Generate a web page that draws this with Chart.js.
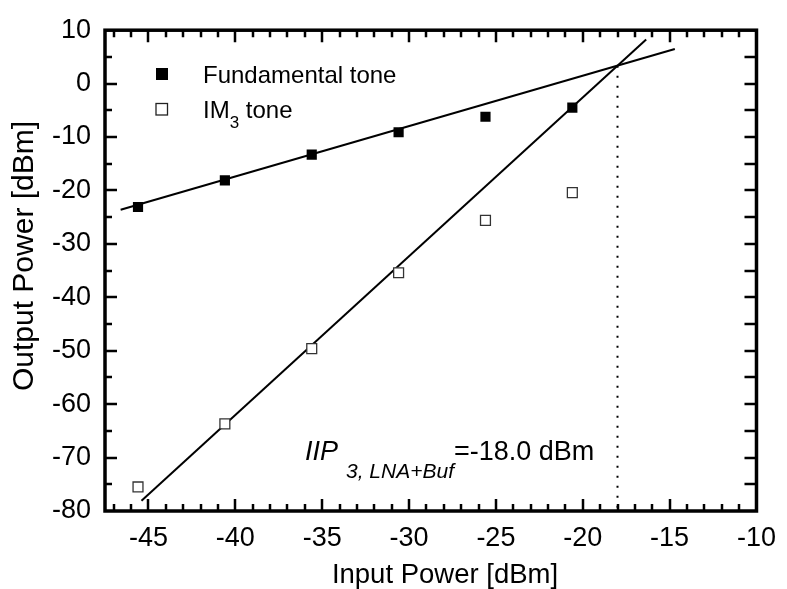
<!DOCTYPE html>
<html>
<head>
<meta charset="utf-8">
<script src="https://cdn.jsdelivr.net/npm/chart.js@4/dist/chart.umd.min.js"></script>
<style>
  body { margin: 0; background: #fff; }
  canvas { display: block; }
</style>
</head>
<body>
<canvas id="c" width="787" height="589"></canvas>
<script>
// measured points: input power and the two output tones
const inputPower = [-45.6, -40.6, -35.6, -30.6, -25.6, -20.6];
const fundamental = [-23.1, -18.1, -13.3, -9.1, -6.2, -4.5];
const im3 = [-75.5, -63.7, -49.6, -35.4, -25.6, -20.4];

// linear fits (end points) for both tones
const fitFundX = [-46.6, -14.7];
const fitFundY = [-23.61, 6.47];
const fitIm3X = [-45.4, -16.35];
const fitIm3Y = [-78.07, 8.26];

// intercept point
const iip3 = -18.0;
const iipOut = 3.36;

// axis ticks
const xTicks = [-45, -40, -35, -30, -25, -20, -15, -10];
const yTicks = [-80, -70, -60, -50, -40, -30, -20, -10, 0, 10];

const FONT = 'Liberation Sans, Arial, sans-serif';

function pts(xs, ys) {
  return xs.map((x, i) => ({ x: x, y: ys[i] }));
}

// frame, inward ticks, legend, titles and the IIP3 note
const decor = {
  id: 'decor',
  afterDraw(chart) {
    const ctx = chart.ctx;
    const a = chart.chartArea;
    const xs = chart.scales.x, ys = chart.scales.y;
    ctx.save();
    ctx.setLineDash([]);
    ctx.strokeStyle = '#000';
    ctx.lineWidth = 3.5;
    ctx.strokeRect(a.left, a.top, a.right - a.left, a.bottom - a.top);

    ctx.lineWidth = 2.5;
    ctx.beginPath();
    for (let v = -47; v <= -11; v++) {
      const px = Math.round(xs.getPixelForValue(v));
      const len = v % 5 === 0 ? 12 : 7;
      ctx.moveTo(px, a.bottom); ctx.lineTo(px, a.bottom - len);
      ctx.moveTo(px, a.top); ctx.lineTo(px, a.top + len);
    }
    for (let v = -75; v <= 5; v += 5) {
      const py = Math.round(ys.getPixelForValue(v));
      const len = v % 10 === 0 ? 12 : 7;
      ctx.moveTo(a.left, py); ctx.lineTo(a.left + len, py);
      ctx.moveTo(a.right, py); ctx.lineTo(a.right - 12, py);
    }
    ctx.stroke();

    // legend
    ctx.fillStyle = '#000';
    ctx.fillRect(156, 68, 12, 12);
    ctx.lineWidth = 1.3;
    ctx.strokeStyle = '#222';
    ctx.strokeRect(156, 103.5, 11.5, 11.5);
    ctx.textBaseline = 'alphabetic';
    ctx.textAlign = 'left';
    ctx.font = '24px ' + FONT;
    ctx.fillText('Fundamental tone', 203, 83);
    ctx.fillText('IM', 203, 118);
    let w = ctx.measureText('IM').width;
    ctx.font = '17px ' + FONT;
    ctx.fillText('3', 203 + w, 128);
    const w3 = ctx.measureText('3').width;
    ctx.font = '24px ' + FONT;
    ctx.fillText(' tone', 203 + w + w3, 118);

    // IIP3 note
    ctx.font = 'italic 27px ' + FONT;
    ctx.fillText('IIP', 305, 460);
    let x = 305 + ctx.measureText('IIP').width + 8;
    ctx.font = 'italic 21px ' + FONT;
    ctx.fillText('3, LNA+Buf', x, 478);
    x += ctx.measureText('3, LNA+Buf').width;
    ctx.font = '27px ' + FONT;
    ctx.fillText('=' + iip3.toFixed(1) + ' dBm', x, 460);

    // axis titles
    ctx.font = '27.5px ' + FONT;
    ctx.textAlign = 'center';
    ctx.textBaseline = 'middle';
    ctx.fillText('Input Power [dBm]', 445, 575);
    ctx.font = '30px ' + FONT;
    ctx.translate(25, 256);
    ctx.rotate(-Math.PI / 2);
    ctx.fillText('Output Power [dBm]', 0, 0);
    ctx.restore();
  }
};

new Chart(document.getElementById('c'), {
  type: 'scatter',
  data: {
    datasets: [
      {
        label: 'Fundamental tone',
        data: pts(inputPower, fundamental),
        pointStyle: 'rect',
        pointRadius: 7.2,
        backgroundColor: '#000',
        borderColor: '#000',
        borderWidth: 0,
        order: 0
      },
      {
        label: 'IM3 tone',
        data: pts(inputPower, im3),
        pointStyle: 'rect',
        pointRadius: 7,
        backgroundColor: '#fff',
        borderColor: '#333',
        borderWidth: 1.3,
        order: 0
      },
      {
        label: 'Fundamental fit',
        data: pts(fitFundX, fitFundY),
        showLine: true,
        pointRadius: 0,
        borderColor: '#000',
        borderWidth: 2,
        order: 1
      },
      {
        label: 'IM3 fit',
        data: pts(fitIm3X, fitIm3Y),
        showLine: true,
        pointRadius: 0,
        borderColor: '#000',
        borderWidth: 2,
        order: 1
      },
      {
        label: 'IIP3',
        data: pts([iip3, iip3], [iipOut, -80]),
        showLine: true,
        pointRadius: 0,
        borderColor: '#000',
        borderWidth: 2,
        borderDash: [2, 8],
        order: 2
      }
    ]
  },
  options: {
    responsive: false,
    animation: false,
    devicePixelRatio: 1,
    layout: { padding: { top: 25, right: 24, left: 0, bottom: 0 } },
    plugins: { legend: { display: false }, tooltip: { enabled: false } },
    scales: {
      x: {
        type: 'linear',
        min: -47.5,
        max: -10,
        afterBuildTicks: s => { s.ticks = xTicks.map(v => ({ value: v })); },
        afterFit: s => { s.height = 78; },
        grid: { display: false, drawTicks: false },
        border: { display: false },
        ticks: { color: '#000', padding: 11, maxRotation: 0, font: { family: FONT, size: 27 } }
      },
      y: {
        type: 'linear',
        min: -80,
        max: 10,
        afterBuildTicks: s => { s.ticks = yTicks.map(v => ({ value: v })); },
        afterFit: s => { s.width = 105; },
        grid: { display: false, drawTicks: false },
        border: { display: false },
        ticks: { color: '#000', padding: 14, font: { family: FONT, size: 27 } }
      }
    }
  },
  plugins: [decor]
});
</script>
</body>
</html>
